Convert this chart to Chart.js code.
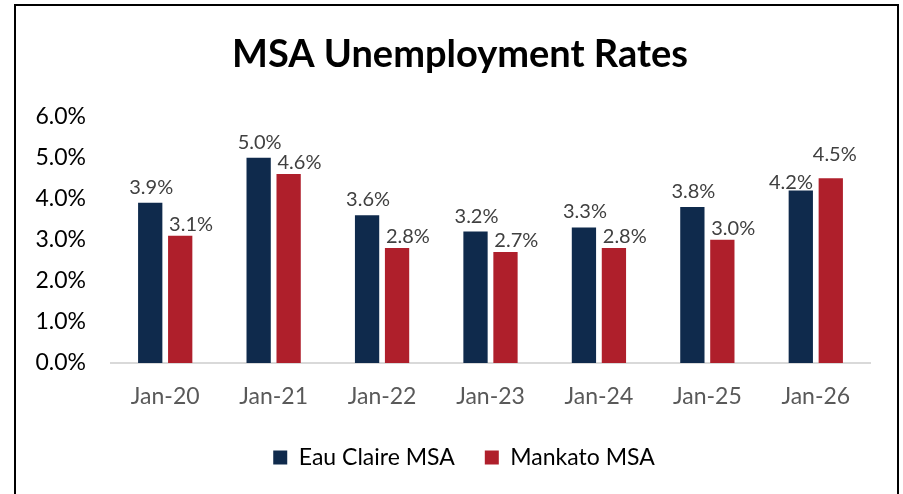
<!DOCTYPE html>
<html>
<head>
<meta charset="UTF-8">
<script src="https://cdn.jsdelivr.net/npm/chart.js"></script>
<style>
  html, body { margin: 0; padding: 0; background: #fff; }
  #wrap { position: relative; width: 903px; height: 494px; overflow: hidden; }
  #frame {
    position: absolute; left: 14px; top: 4px; width: 881px; height: 600px;
    border: 2px solid #000; pointer-events: none;
  }
  canvas { position: absolute; left: 0; top: 0; }
</style>
</head>
<body>
<div id="wrap">
  <canvas id="chart" width="903" height="494"></canvas>
  <div id="frame"></div>
</div>
<script>
// data
const categories = ['Jan-20', 'Jan-21', 'Jan-22', 'Jan-23', 'Jan-24', 'Jan-25', 'Jan-26'];
const eauClaire = [3.9, 5.0, 3.6, 3.2, 3.3, 3.8, 4.2];
const mankato = [3.1, 4.6, 2.8, 2.7, 2.8, 3.0, 4.5];
const seriesNames = ['Eau Claire MSA', 'Mankato MSA'];
const yTicks = [0, 1, 2, 3, 4, 5, 6];

const FONT = 'Lato, "Open Sans", sans-serif';

// value labels: first series centred over its bar, second series starts at
// the bar's left edge (like the Excel original); if they collide the first
// one goes flush to its bar's right edge and the second one moves up
const valueLabels = {
  id: 'valueLabels',
  afterDatasetsDraw(chart) {
    const ctx = chart.ctx;
    ctx.save();
    ctx.font = '20px ' + FONT;
    ctx.fillStyle = '#404040';
    ctx.textBaseline = 'alphabetic';
    ctx.textAlign = 'left';
    const a = chart.getDatasetMeta(0).data;
    const b = chart.getDatasetMeta(1).data;
    const h = 15;
    categories.forEach((c, j) => {
      const ta = eauClaire[j].toFixed(1) + '%';
      const tb = mankato[j].toFixed(1) + '%';
      const wa = ctx.measureText(ta).width;
      const wb = ctx.measureText(tb).width;
      let ax = a[j].x + 1 - wa / 2, ay = a[j].y - 9;
      let bx = b[j].x - b[j].width / 2 + 1, by = b[j].y - 5;
      const overlapX = ax + wa + 1 - bx;
      const overlapY = Math.min(ay, by) - (Math.max(ay, by) - h);
      if (overlapX > 0 && overlapY > 0) {
        ax = a[j].x + a[j].width / 2 - wa;
        ay = a[j].y - 2;
        bx = b[j].x + 4 - wb / 2;
        by = b[j].y - 17;
      }
      ctx.fillText(ta, ax, ay);
      ctx.fillText(tb, bx, by);
    });
    ctx.restore();
  }
};

// title and legend sit a bit right of the canvas centre in the original
const nudge = {
  id: 'nudge',
  afterLayout(chart) {
    chart.titleBlock.left += 15;
    chart.titleBlock.right += 15;
    chart.legend.left += 19;
    chart.legend.right += 19;
  }
};

new Chart(document.getElementById('chart'), {
  type: 'bar',
  data: {
    labels: categories,
    datasets: [
      { label: seriesNames[0], data: eauClaire, backgroundColor: '#0F2A4C' },
      { label: seriesNames[1], data: mankato, backgroundColor: '#AF1F2B' }
    ]
  },
  options: {
    responsive: false,
    animation: false,
    devicePixelRatio: 1,
    categoryPercentage: 0.553,
    barPercentage: 0.81,
    layout: { padding: { left: 20, right: 33, top: 32, bottom: 15 } },
    scales: {
      x: {
        grid: { display: false, drawTicks: false },
        border: { display: true, color: '#D9D9D9', width: 2 },
        ticks: { color: '#595959', font: { family: FONT, size: 23 }, padding: 20 },
        afterFit(scale) { scale.height = 53; }
      },
      y: {
        min: 0,
        max: 6,
        afterBuildTicks(scale) { scale.ticks = yTicks.map(v => ({ value: v })); },
        grid: { display: false, drawTicks: false },
        border: { display: false },
        ticks: {
          color: '#000',
          font: { family: FONT, size: 23 },
          padding: 25,
          callback: v => v.toFixed(1) + '%'
        },
        afterFit(scale) { scale.width = 91; }
      }
    },
    plugins: {
      title: {
        display: true,
        text: 'MSA Unemployment Rates',
        color: '#000',
        font: { family: FONT, size: 38, weight: 'bold', lineHeight: 1.2 },
        padding: { top: 0, bottom: 39 }
      },
      legend: {
        position: 'bottom',
        labels: {
          color: '#000',
          font: { family: FONT, size: 23 },
          boxWidth: 14,
          boxHeight: 14,
          padding: 30
        }
      },
      tooltip: { enabled: false }
    }
  },
  plugins: [valueLabels, nudge]
});
</script>
</body>
</html>
